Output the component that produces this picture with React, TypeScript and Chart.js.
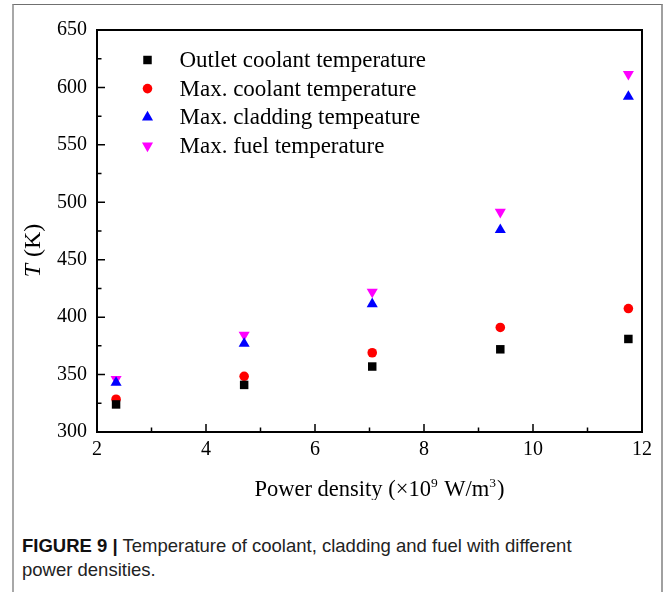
import React, { useEffect, useRef } from 'react';
import { Chart, registerables } from 'chart.js';

Chart.register(...registerables);

// ---- data ----
const powerDensity = [2.35, 4.7, 7.05, 9.4, 11.75];
const outletCoolant = [324, 341, 357, 372, 381];
const maxCoolant = [328.5, 348.5, 369, 391, 407.5];
const maxCladding = [343, 377, 411.5, 476, 592];
const maxFuel = [346, 384.5, 422, 491.5, 611.5];
const seriesLabels = [
  'Outlet coolant temperature',
  'Max. coolant temperature',
  'Max. cladding tempeature',
  'Max. fuel temperature',
];
// x title pieces: [text, isSuperscript]
const xTitleParts: [string, boolean][] = [
  ['Power density (×10', false],
  ['9', true],
  [' W/m', false],
  ['3', true],
  [')', false],
];
const yTitleItalic = 'T';
const yTitleRest = ' (K)';
const captionBold = 'FIGURE 9 |';
const captionLine1 = ' Temperature of coolant, cladding and fuel with different';
const captionLine2 = 'power densities.';

const SERIF = '"Liberation Serif", "Times New Roman", serif';

function drawMarker(ctx: CanvasRenderingContext2D, style: string, rot: number, r: number, x: number, y: number, color: string) {
  ctx.save();
  ctx.fillStyle = color;
  ctx.beginPath();
  if (style === 'rect') {
    const s = Math.SQRT1_2 * r;
    ctx.rect(x - s, y - s, 2 * s, 2 * s);
  } else if (style === 'circle') {
    ctx.arc(x, y, r, 0, Math.PI * 2);
  } else {
    let a = (rot * Math.PI) / 180;
    ctx.moveTo(x + Math.sin(a) * r, y - Math.cos(a) * r);
    a += (2 * Math.PI) / 3;
    ctx.lineTo(x + Math.sin(a) * r, y - Math.cos(a) * r);
    a += (2 * Math.PI) / 3;
    ctx.lineTo(x + Math.sin(a) * r, y - Math.cos(a) * r);
    ctx.closePath();
  }
  ctx.fill();
  ctx.restore();
}

const decorPlugin = {
  id: 'decor',
  afterDraw(chart: any) {
    const { ctx, chartArea: a, scales } = chart;
    ctx.save();
    ctx.strokeStyle = '#000';
    ctx.lineWidth = 1.5;
    const xs = scales.x;
    const ys = scales.y;
    const xt = xs.ticks.map((t: any) => t.value);
    const yt = ys.ticks.map((t: any) => t.value);
    ctx.beginPath();
    xt.forEach((v: number, i: number) => {
      const px = xs.getPixelForValue(v);
      ctx.moveTo(px, a.bottom);
      ctx.lineTo(px, a.bottom - 8);
      if (i < xt.length - 1) {
        const mx = xs.getPixelForValue((v + xt[i + 1]) / 2);
        ctx.moveTo(mx, a.bottom);
        ctx.lineTo(mx, a.bottom - 4.5);
      }
    });
    yt.forEach((v: number, i: number) => {
      const py = ys.getPixelForValue(v);
      ctx.moveTo(a.left, py);
      ctx.lineTo(a.left + 8, py);
      if (i < yt.length - 1) {
        const my = ys.getPixelForValue((v + yt[i + 1]) / 2);
        ctx.moveTo(a.left, my);
        ctx.lineTo(a.left + 4.5, my);
      }
    });
    ctx.stroke();
    ctx.lineWidth = 2;
    ctx.strokeRect(a.left, a.top, a.right - a.left, a.bottom - a.top);

    // legend
    chart.data.datasets.forEach((ds: any, i: number) => {
      const cy = a.top + 30 + i * 28.6;
      drawMarker(ctx, ds.pointStyle, ds.rotation || 0, ds.legendRadius, a.left + 50.5, cy, ds.backgroundColor);
      ctx.fillStyle = '#000';
      ctx.font = `23px ${SERIF}`;
      ctx.textBaseline = 'middle';
      ctx.textAlign = 'left';
      ctx.fillText(ds.label, a.left + 82.5, cy + 1);
    });

    // x title with superscripts
    ctx.fillStyle = '#000';
    ctx.textBaseline = 'alphabetic';
    ctx.textAlign = 'left';
    const mainFont = `22.5px ${SERIF}`;
    const supFont = `13.5px ${SERIF}`;
    let total = 0;
    xTitleParts.forEach(([t, sup]) => {
      ctx.font = sup ? supFont : mainFont;
      total += ctx.measureText(t).width + (sup ? 1 : 0);
    });
    let tx = (a.left + a.right) / 2 + 10 - total / 2;
    const baseY = a.bottom + 64;
    xTitleParts.forEach(([t, sup]) => {
      ctx.font = sup ? supFont : mainFont;
      ctx.fillText(t, tx, sup ? baseY - 9 : baseY);
      tx += ctx.measureText(t).width + (sup ? 1 : 0);
    });

    // y title with italic T
    ctx.save();
    ctx.translate(34, (a.top + a.bottom) / 2 + 20);
    ctx.rotate(-Math.PI / 2);
    ctx.font = `italic 24px ${SERIF}`;
    const w1 = ctx.measureText(yTitleItalic).width;
    ctx.font = `24px ${SERIF}`;
    const w2 = ctx.measureText(yTitleRest).width;
    const start = -(w1 + w2) / 2;
    ctx.textBaseline = 'middle';
    ctx.textAlign = 'left';
    ctx.fillStyle = '#000';
    ctx.font = `italic 24px ${SERIF}`;
    ctx.fillText(yTitleItalic, start, 0);
    ctx.font = `24px ${SERIF}`;
    ctx.fillText(yTitleRest, start + w1 + 1, 0);
    ctx.restore();
    ctx.restore();
  },
};

function toPoints(vals: number[]) {
  return powerDensity.map((x, i) => ({ x, y: vals[i] }));
}

export default function App() {
  const ref = useRef<HTMLCanvasElement | null>(null);
  useEffect(() => {
    if (!ref.current) return;
    const tickFont = { family: SERIF, size: 20 };
    const chart = new Chart(ref.current, {
      type: 'scatter',
      data: {
        datasets: [
          { label: seriesLabels[0], data: toPoints(outletCoolant), pointStyle: 'rect', pointRadius: 6, legendRadius: 6, backgroundColor: '#000000', borderColor: '#000000', borderWidth: 0 } as any,
          { label: seriesLabels[1], data: toPoints(maxCoolant), pointStyle: 'circle', pointRadius: 4.8, legendRadius: 4.8, backgroundColor: '#ff0000', borderColor: '#ff0000', borderWidth: 0 } as any,
          { label: seriesLabels[2], data: toPoints(maxCladding), pointStyle: 'triangle', pointRadius: 6.4, legendRadius: 6.4, backgroundColor: '#0000ff', borderColor: '#0000ff', borderWidth: 0 } as any,
          { label: seriesLabels[3], data: toPoints(maxFuel), pointStyle: 'triangle', rotation: 180, pointRotation: 180, pointRadius: 6.4, legendRadius: 6.4, backgroundColor: '#ff00ff', borderColor: '#ff00ff', borderWidth: 0 } as any,
        ],
      },
      options: {
        animation: false,
        responsive: false,
        maintainAspectRatio: false,
        layout: { padding: { left: 0, right: 24, top: 30, bottom: 0 } },
        plugins: { legend: { display: false }, tooltip: { enabled: false } },
        scales: {
          x: {
            type: 'linear',
            min: 2,
            max: 12,
            ticks: { stepSize: 2, padding: 6, color: '#000', font: tickFont, maxRotation: 0 },
            grid: { display: false, drawTicks: false },
            border: { display: false },
            title: { display: false },
            afterFit(s: any) { s.height = 68; },
          },
          y: {
            type: 'linear',
            min: 300,
            max: 650,
            ticks: { stepSize: 50, padding: 10, color: '#000', font: tickFont },
            grid: { display: false, drawTicks: false },
            border: { display: false },
            afterFit(s: any) { s.width = 97; },
          },
        },
      } as any,
      plugins: [decorPlugin],
    });
    return () => chart.destroy();
  }, []);

  return (
    <div style={{ position: 'fixed', left: 0, top: 0, width: 666, height: 592, overflow: 'hidden', background: '#fff' }}>
      <div style={{ position: 'absolute', left: 12, top: 4, width: 647, height: 640, borderLeft: '2px solid #a8a8a8', borderRight: '2px solid #a0a0a0', borderTop: '1.5px solid #707070' }} />
      <canvas ref={ref} width={666} height={500} style={{ position: 'absolute', left: 0, top: 0, width: 666, height: 500 }} />
      <div style={{ position: 'absolute', left: 22, top: 534, fontFamily: '"Liberation Sans", Arial, sans-serif', fontSize: 18.5, lineHeight: '24px', color: '#222', whiteSpace: 'nowrap' }}>
        <span style={{ fontWeight: 'bold', color: '#111' }}>{captionBold}</span>
        {captionLine1}
        <br />
        {captionLine2}
      </div>
    </div>
  );
}
